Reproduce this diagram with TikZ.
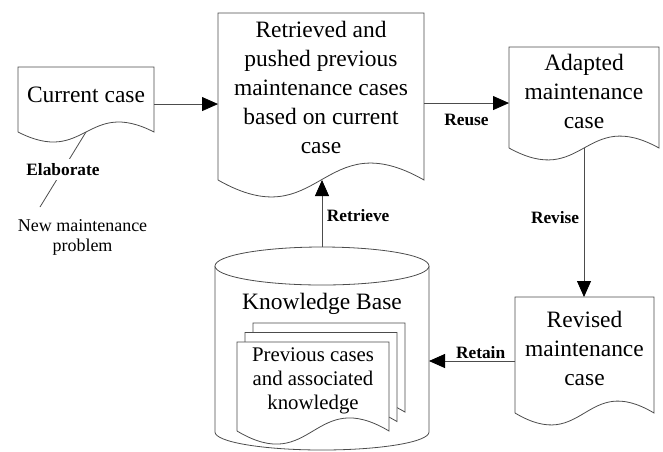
\documentclass[tikz,border=0pt]{standalone}
\usepackage{fontspec}
\setmainfont{Liberation Serif}
\usetikzlibrary{calc,positioning,arrows.meta}

\tikzstyle{docbox}=[draw=none, inner sep=0pt, outer sep=0pt]
\tikzstyle{docline}=[draw=black!70, line width=0.6pt, fill=white]
\tikzstyle{bigtext}=[font=\fontsize{17.6}{21.7}\selectfont, align=center, inner sep=0pt]
\tikzstyle{pagetext}=[font=\fontsize{15.6}{18.1}\selectfont, align=center, inner sep=0pt]
\tikzstyle{steplabel}=[font=\fontsize{13}{15}\selectfont\bfseries]
\tikzstyle{flow}=[draw=black!70, line width=0.6pt, -{Triangle[length=12pt, width=10.5pt, color=black]}]
\tikzstyle{plainline}=[draw=black!70, line width=0.6pt]

% page outline with a wavy bottom edge
\newcommand{\docpage}[2]{%
  \draw[docline] (#1.south west) -- (#1.north west) -- (#1.north east) -- (#1.south east)
    .. controls ([yshift=#2]#1.south) and ([yshift=-#2]#1.south) .. (#1.south west);}

\begin{document}
\begin{tikzpicture}[x=0.75pt, y=-0.75pt]
\useasboundingbox (0,0) rectangle (663,451);

\node (cur) [docbox, minimum width=102pt, minimum height=48.75pt] at (86,99.5) {};
\node (ret) [docbox, minimum width=154.5pt, minimum height=125.25pt] at (321,96.5) {};
\node (ada) [docbox, minimum width=112.5pt, minimum height=75.75pt] at (584,97.5) {};
\node (rev) [docbox, minimum width=104.25pt, minimum height=87pt] at (584.5,355) {};
\docpage{cur}{26pt}
\docpage{ret}{44pt}
\docpage{ada}{31pt}
\docpage{rev}{31pt}
\node [bigtext] at ([yshift=3.6pt]cur) {Current case};
\node [bigtext] at ([yshift=7pt]ret) {Retrieved and\\pushed previous\\maintenance cases\\based on current\\case};
\node [bigtext] at ([yshift=4.5pt]ada) {Adapted\\maintenance\\case};
\node [bigtext] at ([yshift=5pt]rev) {Revised\\maintenance\\case};

% knowledge base
\node (kb) [docbox, minimum width=160.5pt, minimum height=152.25pt] at (322,348.5) {};
\draw[docline] ([yshift=-14.25pt]kb.north west) -- ([yshift=13.5pt]kb.south west)
  arc[start angle=180, end angle=360, x radius=80.25pt, y radius=13.5pt] -- ([yshift=-14.25pt]kb.north east);
\draw[docline] ([yshift=-14.25pt]kb.north) ellipse [x radius=80.25pt, y radius=14.25pt];
\node [bigtext] at ([yshift=33.75pt]kb) {Knowledge Base};

\node (pg1) [docbox, minimum width=114pt, minimum height=66.75pt] at (313,386.5) {};
\node (pg2) [docbox, minimum width=114pt, minimum height=66.75pt] at ([xshift=6pt,yshift=7.1pt]pg1) {};
\node (pg3) [docbox, minimum width=114pt, minimum height=66.75pt] at ([xshift=6pt,yshift=7.1pt]pg2) {};
\docpage{pg3}{34pt}
\docpage{pg2}{34pt}
\docpage{pg1}{34pt}
\node [pagetext] at ([yshift=4.1pt]pg1) {Previous cases\\and associated\\knowledge};

% flow
\draw[flow] ([yshift=-3.4pt]cur.east) -- ([yshift=-3.4pt]cur.east -| ret.west);
\draw[flow] ([yshift=-4.9pt]ret.east) -- node[steplabel, below=4.7pt] {Reuse} ([yshift=-4.9pt]ret.east -| ada.west);
\draw[flow] (kb.north) -- node[steplabel, right, pos=0.47] {Retrieve} (kb.north |- ret.south);
\draw[flow] (ada.south) -- node[steplabel, left, pos=0.47] {Revise} (ada.south |- rev.north);
\draw[flow] ([yshift=-4.5pt]rev.west) -- node[steplabel, above=-2pt, pos=0.4] {Retain} ([yshift=-4.5pt]rev.west -| kb.east);

\coordinate (elab) at (40,207);
\draw[plainline] (cur.south) -- node[steplabel, fill=white] {Elaborate} (elab);
\node (np) [font=\fontsize{13.5}{15}\selectfont, align=center] at (82.5,237.5) {New maintenance\\problem};

\end{tikzpicture}
\end{document}
